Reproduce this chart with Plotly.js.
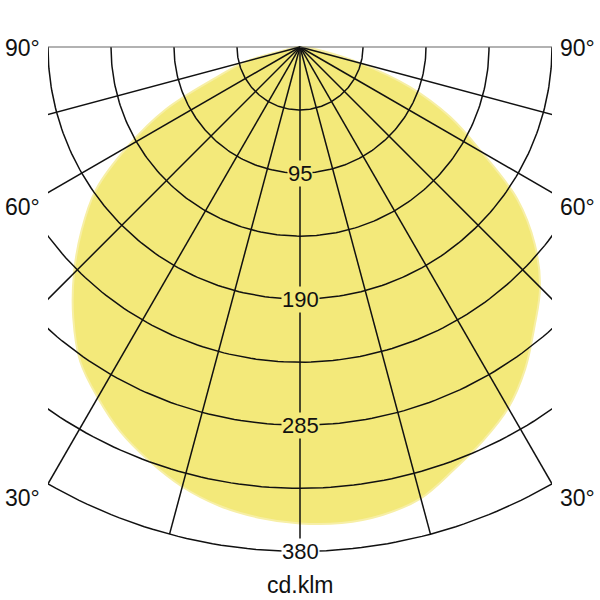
<!DOCTYPE html>
<html>
<head>
<meta charset="utf-8">
<script src="https://cdn.plot.ly/plotly-3.0.1.min.js"></script>
<style>
html, body {margin:0; padding:0; background:#fff;}
#plot {width:600px; height:600px;}
</style>
</head>
<body>
<div id="plot"></div>
<script>
// intensity curve (cd/klm), every 5 deg from nadir
var angles  = [0, 5, 10, 15, 20, 25, 30, 35, 40, 45, 50, 55, 60, 65, 70, 75, 80, 85, 90];
var leftCd  = [359, 356, 351, 343, 332, 320, 305, 289, 266, 241, 215, 188, 150, 112, 67, 42, 6, 1, 0];
var rightCd = [361, 360, 358, 352, 339, 327, 314, 296, 275, 256, 231, 200, 158, 125, 88, 47, 18, 4, 0];

// grid
var rings = [47.5, 95, 142.5, 190, 237.5, 285, 332.5, 380];
var ringLabels = [95, 190, 285, 380];
var spokes = [-90, -75, -60, -45, -30, -15, 0, 15, 30, 45, 60, 75, 90];
var angleLabels = ['90°', '60°', '30°'];
var unitLabel = 'cd.klm';

var FILL = '#F3E97A';
var FONT = 'Liberation Sans, Arial, Helvetica, sans-serif';

// 0 deg points straight down, negative angles to the left
function toXY(deg, r){
	var a = deg * Math.PI / 180;
	return [r * Math.sin(a), -r * Math.cos(a)];
}

var traces = [];

// yellow intensity area
var fx = [], fy = [];
for (var i = angles.length - 1; i >= 0; i--){
	var p = toXY(-angles[i], leftCd[i]);
	fx.push(p[0]); fy.push(p[1]);
}
for (var i = 1; i < angles.length; i++){
	var p = toXY(angles[i], rightCd[i]);
	fx.push(p[0]); fy.push(p[1]);
}
traces.push({
	x: fx, y: fy, type: 'scatter', mode: 'lines',
	fill: 'toself', fillcolor: FILL,
	line: {color: '#F7EFA6', width: 2, shape: 'spline', smoothing: 1},
	hoverinfo: 'skip', showlegend: false
});

// rings (clipped by the plot area at the sides)
rings.forEach(function(r){
	var xs = [], ys = [];
	for (var d = -90; d <= 90; d += 1){
		var p = toXY(d, r);
		xs.push(p[0]); ys.push(p[1]);
	}
	traces.push({x: xs, y: ys, type: 'scatter', mode: 'lines',
		line: {color: '#111', width: 1.5}, hoverinfo: 'skip', showlegend: false});
});

// spokes
spokes.forEach(function(d){
	var p = toXY(d, rings[rings.length - 1]);
	var horiz = Math.abs(d) == 90;
	traces.push({x: [0, p[0]], y: [0, p[1]], type: 'scatter', mode: 'lines',
		line: {color: horiz ? '#666' : '#111', width: horiz ? 1.2 : 1.5},
		hoverinfo: 'skip', showlegend: false});
});

var annotations = [];
ringLabels.forEach(function(v, idx){
	annotations.push({
		x: 0, y: -v, xref: 'x', yref: 'y', text: String(v), showarrow: false,
		font: {family: FONT, size: 22, color: '#111'},
		bgcolor: idx == ringLabels.length - 1 ? '#ffffff' : FILL, borderpad: 0
	});
});

var labelY = [-0.8, -120.5, -340];
angleLabels.forEach(function(t, idx){
	annotations.push({x: -0.012, y: labelY[idx], xref: 'paper', yref: 'y', text: t,
		showarrow: false, xanchor: 'right', font: {family: FONT, size: 23, color: '#111'}});
	annotations.push({x: 1.012, y: labelY[idx], xref: 'paper', yref: 'y', text: t,
		showarrow: false, xanchor: 'left', font: {family: FONT, size: 23, color: '#111'}});
});
annotations.push({x: 0.5, y: -0.052, xref: 'paper', yref: 'paper', text: unitLabel,
	showarrow: false, yanchor: 'middle', font: {family: FONT, size: 23, color: '#111'}});

var layout = {
	width: 600, height: 600,
	margin: {l: 48, r: 48, t: 43, b: 42},
	paper_bgcolor: '#fff', plot_bgcolor: '#fff',
	xaxis: {range: [-190, 190], visible: false, fixedrange: true},
	yaxis: {range: [-385, 3], visible: false, fixedrange: true},
	showlegend: false,
	annotations: annotations
};

Plotly.newPlot('plot', traces, layout, {displayModeBar: false, staticPlot: true});
</script>
</body>
</html>
